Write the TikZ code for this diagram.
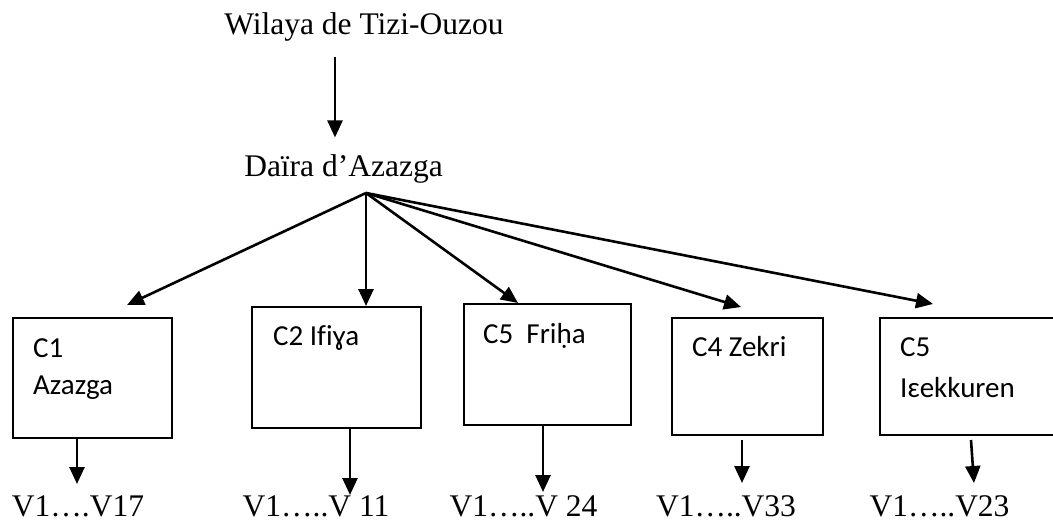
\documentclass[tikz,border=0pt]{standalone}
\usepackage{fontspec}
\setmainfont{Liberation Serif}
\newfontfamily\BoxFont[Ligatures=NoCommon]{Carlito}
\usetikzlibrary{arrows.meta}
\tikzset{
    Arr/.style={line width=2.6pt,-{Triangle[length=17pt,width=15pt]}},
    Commune/.style={draw,line width=2pt,anchor=north west,inner sep=0pt},
    BoxText/.style={anchor=base west,inner sep=0pt,font=\BoxFont\fontsize{29}{35}\selectfont},
    BigText/.style={anchor=base,inner sep=0pt,font=\fontsize{31.5}{38}\selectfont},
}

\begin{document}
\begin{tikzpicture}[x=1pt,y=-1pt]
    \useasboundingbox (0,0) rectangle (1053,527);
    \clip (0,0) rectangle (1053,527);
    % wilaya and daira
    \node[BigText] (Wilaya) at (364,35) {Wilaya de Tizi-Ouzou};
    \node[BigText] (Daira) at (343.5,176) {Daïra d’Azazga};
    \draw[Arr] ([xshift=-29pt,yshift=-15pt]Wilaya.south) -- ([xshift=-8.5pt,yshift=16.5pt]Daira.north);
    \coordinate (Hub) at ([xshift=22.5pt,yshift=-10pt]Daira.south);
    % communes
    \node[Commune,minimum width=159pt,minimum height=120pt] (C1) at (12,317) {};
    \node[Commune,minimum width=169pt,minimum height=121pt] (C2) at (251,306) {};
    \node[Commune,minimum width=167pt,minimum height=121pt] (C3) at (463,303) {};
    \node[Commune,minimum width=151pt,minimum height=117pt] (C4) at (671,317) {};
    \node[Commune,minimum width=200pt,minimum height=117pt] (C5) at (879,317) {};
    \node[BoxText] (C1Code) at ([xshift=21pt,yshift=-40pt]C1.north west) {C1};
    \node[BoxText] (C1Name) at ([xshift=21pt,yshift=-77pt]C1.north west) {Azazga};
    \node[BoxText] (C2Name) at ([xshift=22pt,yshift=-39pt]C2.north west) {C2 Ifiɣa};
    \node[BoxText] (C3Name) at ([xshift=20pt,yshift=-40pt]C3.north west) {C5\ \ Friḥa};
    \node[BoxText] (C4Name) at ([xshift=21pt,yshift=-39pt]C4.north west) {C4 Zekri};
    \node[BoxText] (C5Code) at ([xshift=21pt,yshift=-39pt]C5.north west) {C5};
    \node[BoxText] (C5Name) at ([xshift=21pt,yshift=-80pt]C5.north west) {Iɛekkuren};
    % fan from the daira
    \draw[Arr] (Hub) -- ([xshift=115pt,yshift=12pt]C1.north west);
    \draw[Arr] (Hub) -- ([xshift=115pt]C2.north west);
    \draw[Arr] (Hub) -- ([xshift=55pt]C3.north west);
    \draw[Arr] (Hub) -- ([xshift=70pt,yshift=10pt]C4.north west);
    \draw[Arr] (Hub) -- ([xshift=54pt,yshift=13pt]C5.north west);
    % villages
    \draw[Arr] ([xshift=65pt]C1.south west) -- ++(0,45);
    \draw[Arr] ([xshift=99pt]C2.south west) -- ++(0,66);
    \draw[Arr] ([xshift=80pt]C3.south west) -- ++(0,66);
    \draw[Arr] ([xshift=71pt,yshift=-4pt]C4.south west) -- ++(0,43);
    \draw[Arr] ([xshift=92pt,yshift=-4pt]C5.south west) -- ++(3,43);
    \node[BigText] (V1) at (78,516) {V1….V17};
    \node[BigText] (V2) at (316,516) {V1…..V 11};
    \node[BigText] (V3) at (523.5,516) {V1…..V 24};
    \node[BigText] (V4) at (726,516) {V1…..V33};
    \node[BigText] (V5) at (939.5,516) {V1…..V23};
\end{tikzpicture}
\end{document}
